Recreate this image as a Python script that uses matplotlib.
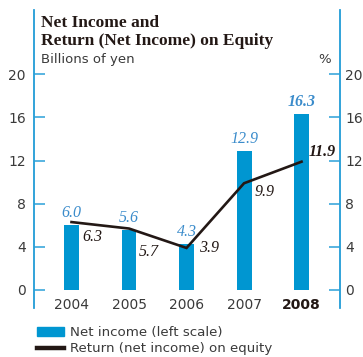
import matplotlib
matplotlib.use("Agg")
import matplotlib.pyplot as plt
from matplotlib.patches import Patch
from matplotlib.lines import Line2D

# data
years = ["2004", "2005", "2006", "2007", "2008"]
net_income = [6.0, 5.6, 4.3, 12.9, 16.3]
roe = [6.3, 5.7, 3.9, 9.9, 11.9]
yticks = [0, 4, 8, 12, 16, 20]

BAR_BLUE = "#0096d1"
AXIS_BLUE = "#2ba0d8"
LABEL_BLUE = "#3b8ccb"
DARK = "#231815"
GREY = "#3a3a3a"

# label offsets for the ROE values (points)
roe_offsets = [(15, -11), (14.5, -17), (16, 0), (15, -6.5), (15, 7)]

fig = plt.figure(figsize=(3.63, 3.57), dpi=100)
ax = fig.add_axes([34.3 / 363, 1 - 308 / 357, (339.5 - 34.3) / 363, (308 - 10) / 357])
ax2 = ax.twinx()

x = list(range(len(years)))
ax.bar(x, net_income, width=0.26, color=BAR_BLUE, zorder=2)
ax2.plot(x, roe, color=DARK, lw=1.9, solid_joinstyle="miter", zorder=3)

for a in (ax, ax2):
    a.set_xlim(-0.647, 4.66)
    a.set_ylim(-1.67, 25.97)
    a.set_yticks(yticks)
    for s in ("top", "bottom"):
        a.spines[s].set_visible(False)
    a.spines["left"].set_color(AXIS_BLUE)
    a.spines["right"].set_color(AXIS_BLUE)
    a.spines["left"].set_linewidth(1.1)
    a.spines["right"].set_linewidth(1.1)

ax.tick_params(axis="y", direction="in", length=8, width=1.1, color=AXIS_BLUE,
               labelcolor=GREY, labelsize=10, pad=6)
ax2.tick_params(axis="y", direction="in", length=8, width=1.1, color=AXIS_BLUE,
                labelcolor=GREY, labelsize=10, pad=4)
ax.set_xticks(x)
ax.set_xticklabels(years)
ax.tick_params(axis="x", length=0, labelsize=10, labelcolor=GREY, pad=-7.5)
ax.get_xticklabels()[-1].set_fontweight("bold")
ax.get_xticklabels()[-1].set_color(DARK)

# value labels
for i, v in enumerate(net_income):
    ax.annotate(f"{v:.1f}", (i, v), xytext=(0, 8.6), textcoords="offset points",
                ha="center", va="center", color=LABEL_BLUE, fontsize=11.5,
                family="Liberation Serif", style="italic",
                fontweight="bold" if i == len(years) - 1 else "normal")
for i, v in enumerate(roe):
    ax2.annotate(f"{v:.1f}", (i, v), xytext=roe_offsets[i], textcoords="offset points",
                 ha="center", va="center", color=DARK, fontsize=11.5,
                 family="Liberation Serif", style="italic",
                 fontweight="bold" if i == len(years) - 1 else "normal")

# title block
fig.text(41 / 363, 1 - 27 / 357, "Net Income and", family="Liberation Serif",
         fontweight="bold", fontsize=12.5, color=DARK, va="baseline")
fig.text(41 / 363, 1 - 45 / 357, "Return (Net Income) on Equity", family="Liberation Serif",
         fontweight="bold", fontsize=12.5, color=DARK, va="baseline")
fig.text(41 / 363, 1 - 63 / 357, "Billions of yen", fontsize=9.5, color=GREY, va="baseline")
fig.text(331 / 363, 1 - 63 / 357, "%", fontsize=9.5, color=GREY, va="baseline", ha="right")

# legend
handles = [Patch(color=BAR_BLUE), Line2D([], [], color=DARK, lw=3.2)]
fig.legend(handles, ["Net income (left scale)", "Return (net income) on equity"],
           loc="upper left", bbox_to_anchor=(37 / 363, 1 - 326 / 357), frameon=False,
           fontsize=9.6, labelcolor=GREY, handlelength=2.0, handletextpad=0.45,
           labelspacing=0.25, borderpad=0, borderaxespad=0)

fig.savefig("out.png", dpi=100)
